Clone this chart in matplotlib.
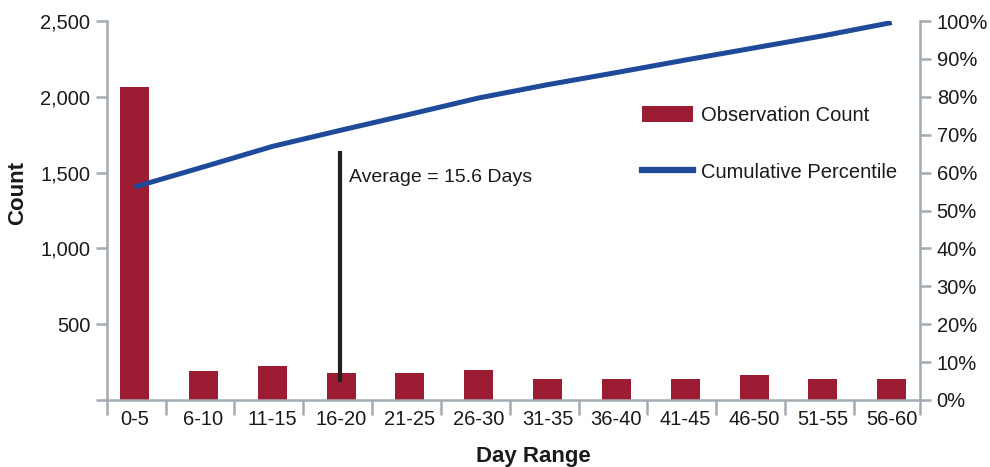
import matplotlib
matplotlib.use("Agg")
import matplotlib.pyplot as plt
from matplotlib.patches import Patch
from matplotlib.lines import Line2D
from matplotlib.ticker import FuncFormatter, FixedLocator

plt.rcParams['font.family'] = ['Liberation Sans', 'DejaVu Sans']

categories = ["0-5", "6-10", "11-15", "16-20", "21-25", "26-30",
              "31-35", "36-40", "41-45", "46-50", "51-55", "56-60"]
counts = [2065, 191, 224, 178, 178, 198, 139, 139, 139, 165, 139, 139]
cumulative_pct = [56.2, 61.5, 66.9, 71.2, 75.4, 79.7, 83.2, 86.4, 89.7, 92.9, 96.1, 99.6]
average_label = "Average = 15.6 Days"
average_pos = 2.98          # category position where the average marker sits
average_span = (119, 1642)  # count-axis extent of the marker

bar_color = "#9b1c33"
line_color = "#1f4a9a"
spine_color = "#a3abb3"
text_color = "#1a1a1a"

fig = plt.figure(figsize=(9.9, 4.67), dpi=100)
ax = fig.add_axes([0.1081, 0.1435, 0.8212, 0.8115])
ax2 = ax.twinx()

x = list(range(len(categories)))
ax.bar(x, counts, width=0.42, color=bar_color, zorder=2)
ax2.plot(x, cumulative_pct, color=line_color, lw=3.6, solid_capstyle='butt', zorder=3)
ax.vlines(average_pos, average_span[0], average_span[1], color="#231f20", lw=3.0, zorder=4)
ax.text(average_pos + 0.14, 1470, average_label, fontsize=14, color=text_color,
        va='center', ha='left')

x_lo, x_hi = -0.40, len(categories) - 0.59
ax.set_xlim(x_lo, x_hi)
ax.set_ylim(0, 2500)
ax2.set_ylim(0, 100)

# x ticks: labels at centers, tick marks at boundaries
ax.set_xticks(x)
ax.set_xticklabels(categories)
bounds = [x_lo] + [i + 0.45 for i in range(len(categories) - 1)] + [x_hi]
ax.xaxis.set_minor_locator(FixedLocator(bounds))
ax.tick_params(axis='x', which='major', length=0, pad=7, labelsize=14.5, labelcolor=text_color)
ax.tick_params(axis='x', which='minor', length=11, width=1.8, color=spine_color)

ax.set_yticks([0, 500, 1000, 1500, 2000, 2500])
ax.yaxis.set_major_formatter(FuncFormatter(lambda v, p: "" if v == 0 else f"{int(v):,}"))
ax.tick_params(axis='y', length=8, width=1.8, color=spine_color, labelsize=14.5,
               labelcolor=text_color, pad=4)

ax2.set_yticks(range(0, 101, 10))
ax2.yaxis.set_major_formatter(FuncFormatter(lambda v, p: f"{int(v)}%"))
ax2.tick_params(axis='y', length=8, width=1.8, color=spine_color, labelsize=14.5,
                labelcolor=text_color, pad=4)

for a in (ax, ax2):
    a.spines['top'].set_visible(False)
    for s in ('left', 'right', 'bottom'):
        a.spines[s].set_color(spine_color)
        a.spines[s].set_linewidth(1.8)
ax.spines['right'].set_visible(False)
ax2.spines['left'].set_visible(False)
ax2.spines['bottom'].set_visible(False)

ax.set_ylabel("Count", fontsize=16, fontweight='bold', color=text_color)
ax.yaxis.set_label_coords(-0.097, 0.545)
ax.set_xlabel("Day Range", fontsize=16, fontweight='bold', color=text_color)
ax.xaxis.set_label_coords(0.525, -0.121)

handles = [Patch(facecolor=bar_color, edgecolor='none', label="Observation Count"),
           Line2D([0], [0], color=line_color, lw=4.5, label="Cumulative Percentile")]
leg = ax2.legend(handles=handles, loc='upper left', bbox_to_anchor=(0.6476, 0.797),
                 frameon=False, fontsize=14.5, handlelength=2.55, handleheight=0.85,
                 labelspacing=1.87, handletextpad=0.4, borderaxespad=0)
for t in leg.get_texts():
    t.set_color(text_color)

fig.savefig("out.png", dpi=100)
